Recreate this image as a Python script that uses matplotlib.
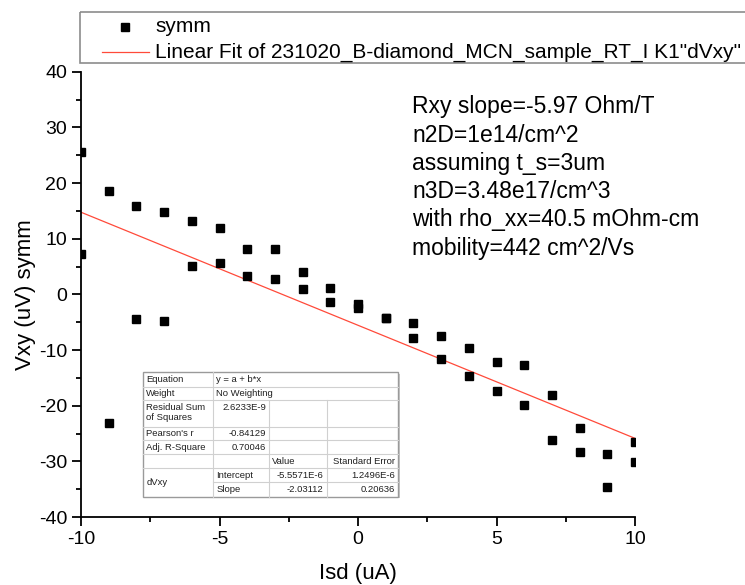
import matplotlib
matplotlib.use("Agg")
import matplotlib.pyplot as plt
from matplotlib.transforms import Affine2D
from matplotlib.lines import Line2D
from matplotlib.patches import Rectangle
import numpy as np

plt.rcParams['font.family'] = ['Liberation Sans', 'DejaVu Sans']
plt.rcParams['axes.unicode_minus'] = False

# Measured Hall voltage (symmetrized) vs source-drain current
isd = [-10, -10, -9, -9, -8, -8, -7, -7, -6, -6, -5, -5, -4, -4, -3, -3, -2, -2, -1, -1,
       0, 0, 1, 1, 2, 2, 3, 3, 4, 4, 5, 5, 6, 6, 7, 7, 8, 8, 9, 9, 10, 10]
vxy = [25.6, 7.2, 18.6, -23.1, 15.9, -4.4, 14.8, -4.7, 13.2, 5.1, 12.0, 5.6, 8.1, 3.3,
       8.1, 2.7, 4.0, 1.0, 1.2, -1.3, -1.7, -2.5, -4.2, -4.3, -5.1, -7.9, -7.4, -11.7,
       -9.6, -14.6, -12.1, -17.3, -12.7, -19.9, -18.1, -26.2, -24.1, -28.4, -28.7, -34.6,
       -26.6, -30.1]

# Linear fit results (SI units from the fit report)
fit_intercept = -5.5571e-6   # V
fit_slope = -2.03112         # V/A
fit_x = [-10, 10]            # uA

x_ticks = [-10, -5, 0, 5, 10]
y_ticks = [-40, -30, -20, -10, 0, 10, 20, 30, 40]

notes = ["Rxy slope=-5.97 Ohm/T",
         "n2D=1e14/cm^2",
         "assuming t_s=3um",
         "n3D=3.48e17/cm^3",
         "with rho_xx=40.5 mOhm-cm",
         "mobility=442 cm^2/Vs"]

legend_labels = ["symm", "Linear Fit of 231020_B-diamond_MCN_sample_RT_I K1\"dVxy\""]

table_rows = [
    ["Equation", "y = a + b*x", "", ""],
    ["Weight", "No Weighting", "", ""],
    ["Residual Sum\nof Squares", "2.6233E-9", "", ""],
    ["Pearson's r", "-0.84129", "", ""],
    ["Adj. R-Square", "0.70046", "", ""],
    ["", "", "Value", "Standard Error"],
    ["dVxy", "Intercept", "-5.5571E-6", "1.2496E-6"],
    ["", "Slope", "-2.03112", "0.20636"],
]

W, H = 745, 585
fig = plt.figure(figsize=(W / 100, H / 100), dpi=100)
px = Affine2D().scale(1 / W, -1 / H).translate(0, 1) + fig.transFigure

L, R, T, B = 81, 635, 71.7, 517
ax = fig.add_axes([L / W, 1 - B / H, (R - L) / W, (B - T) / H])

fit_color = '#ff4a3a'
ax.plot(isd, vxy, linestyle='none', marker='s', markersize=6.3, color='black', zorder=3)
fx = np.array(fit_x, dtype=float)
fy = fit_intercept * 1e6 + fit_slope * fx
ax.plot(fx, fy, color=fit_color, linewidth=0.9, zorder=2)

ax.set_xlim(-10, 10)
ax.set_ylim(-40, 40)
ax.set_xticks(x_ticks)
ax.set_yticks(y_ticks)
ax.set_xticks([-7.5, -2.5, 2.5, 7.5], minor=True)
ax.set_yticks(np.arange(-35, 40, 10), minor=True)
for s in ['top', 'right']:
    ax.spines[s].set_visible(False)
for s in ['left', 'bottom']:
    ax.spines[s].set_linewidth(1.3)
ax.tick_params(which='major', direction='out', length=6.5, width=1.3, labelsize=14, pad=3.5)
ax.tick_params(which='minor', direction='out', length=3.5, width=1.3)
ax.set_xlabel("Isd (uA)", fontsize=16, labelpad=11)
ax.set_ylabel("Vxy (uV) symm", fontsize=16, labelpad=2)

# Annotation block
for i, line in enumerate(notes):
    fig.text(412, 106.7 + 28.3 * i, line, transform=px, fontsize=16.5,
             ha='left', va='center')

# Legend box
fig.add_artist(Rectangle((80, 11.7), 700, 51.6, transform=px, fill=False,
                         edgecolor='#8c8c8c', linewidth=1.2))
fig.add_artist(Line2D([125], [26.7], transform=px, marker='s', markersize=6.3,
                      color='black', linestyle='none'))
fig.add_artist(Line2D([102, 149], [51.7, 51.7], transform=px, color=fit_color,
                      linewidth=0.9))
fig.text(155, 27, legend_labels[0], transform=px, fontsize=15, ha='left', va='center')
fig.text(155, 52, legend_labels[1], transform=px, fontsize=15, ha='left', va='center')

# Fit report table
col_x = [143.3, 213.3, 269, 326.7, 398.3]
row_y = [372.3, 386.7, 400, 426.7, 440, 454, 468.3, 481.7, 496.7]
grid_c = '#d0d0d0'
text_c = '#202020'
tfs = 6.8
# drop shadow and frame
fig.add_artist(Rectangle((col_x[0] + 1.5, row_y[0] + 1.5), col_x[-1] - col_x[0],
                         row_y[-1] - row_y[0], transform=px, facecolor='#c8c8c8',
                         edgecolor='none', zorder=4))
fig.add_artist(Rectangle((col_x[0], row_y[0]), col_x[-1] - col_x[0], row_y[-1] - row_y[0],
                         transform=px, facecolor='white', edgecolor='#9a9a9a',
                         linewidth=1.0, zorder=5))
# horizontal lines
for j, y in enumerate(row_y[1:-1], start=1):
    x0 = col_x[1] if j == 7 else col_x[0]
    fig.add_artist(Line2D([x0, col_x[-1]], [y, y], transform=px, color=grid_c,
                          linewidth=0.8, zorder=6))
# vertical lines
fig.add_artist(Line2D([col_x[1], col_x[1]], [row_y[0], row_y[-1]], transform=px,
                      color=grid_c, linewidth=0.8, zorder=6))
for c in (2, 3):
    fig.add_artist(Line2D([col_x[c], col_x[c]], [row_y[2], row_y[-1]], transform=px,
                          color=grid_c, linewidth=0.8, zorder=6))

for r, row in enumerate(table_rows):
    yc = (row_y[r] + row_y[r + 1]) / 2
    for c, txt in enumerate(row):
        if not txt:
            continue
        if r == 6 and c == 0:
            yt = (row_y[6] + row_y[8]) / 2
            fig.text(col_x[0] + 3, yt, txt, transform=px, fontsize=tfs, color=text_c,
                     ha='left', va='center', zorder=7)
            continue
        if r == 2 and c == 0:
            fig.text(col_x[0] + 3, row_y[r] + 3, txt, transform=px, fontsize=tfs,
                     color=text_c, ha='left', va='top', linespacing=1.1, zorder=7)
            continue
        if r == 2 and c == 1:
            fig.text(col_x[2] - 3, row_y[r] + 3, txt, transform=px, fontsize=tfs,
                     color=text_c, ha='right', va='top', zorder=7)
            continue
        numeric = (c >= 1 and r in (3, 4)) or (c >= 2 and r >= 6) or (c == 3 and r == 5)
        if numeric:
            fig.text(col_x[c + 1] - 3, yc, txt, transform=px, fontsize=tfs, color=text_c,
                     ha='right', va='center', zorder=7)
        else:
            fig.text(col_x[c] + 3, yc, txt, transform=px, fontsize=tfs, color=text_c,
                     ha='left', va='center', zorder=7)

fig.savefig("out.png", dpi=100)
